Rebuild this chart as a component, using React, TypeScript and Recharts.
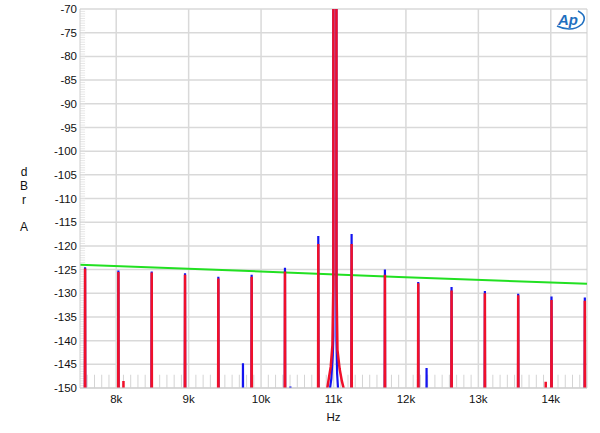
import React from 'react'
import { LineChart, Line, XAxis, YAxis, CartesianGrid, ReferenceLine, Label } from 'recharts'

// spur frequencies (Hz) around the 11kHz tone
const spurFreqs = [7570, 8030, 8490, 8950, 9410, 9870, 10330, 10790, 11250, 11710, 12170, 12630, 13090, 13550, 14010, 14470]
const blueSpurs = [-124.5, -125.2, -125.4, -125.8, -126.5, -126.1, -124.6, -117.9, -117.5, -125.0, -127.6, -128.7, -129.5, -130.1, -130.7, -130.9]
const redSpurs = [-124.8, -125.5, -125.6, -126.1, -126.9, -126.5, -125.4, -119.6, -119.6, -126.1, -127.9, -129.4, -130.0, -130.4, -131.4, -131.6]

// small stray peaks near the floor
const blueExtraFreqs = [9750, 10405, 12285]
const blueExtraLevels = [-144.8, -149.7, -145.8]
const redExtraFreqs = [8100, 13930]
const redExtraLevels = [-148.5, -148.7]

// main tone with its skirt
const blueMainFreqs = [10935, 10970, 10990, 10998, 10999, 11040, 11041, 11050, 11070]
const blueMainLevels = [-152, -148, -143, -139, -40, -40, -140, -147, -152]
const redMainFreqs = [10895, 10930, 10962, 10985, 10998, 10999, 11040, 11041, 11055, 11085, 11115, 11155]
const redMainLevels = [-152, -148.5, -145.5, -141, -128, -40, -40, -128, -142, -146, -148.5, -151]

// green reference line
const greenFreqs = [7500, 10250, 11900, 14500]
const greenLevels = [-124.0, -125.55, -126.55, -128.0]

const xTicks = [8000, 9000, 10000, 11000, 12000, 13000, 14000]
const yTicks = [-70, -75, -80, -85, -90, -95, -100, -105, -110, -115, -120, -125, -130, -135, -140, -145, -150]
const yLabelLetters = ['d', 'B', 'r', '', 'A']

const FLOOR = -165
const SPIKE_HALF = 4

const minorX = Array.from({ length: 69 }, (_, i) => 7600 + i * 100).filter((f) => f % 1000 !== 0)
const minorY = Array.from({ length: 159 }, (_, i) => -149.5 + i * 0.5)

type Pt = { f: number; v: number }

const buildTrace = (
  freqs: number[],
  levels: number[],
  extraF: number[],
  extraL: number[],
  mainF: number[],
  mainL: number[]
): Pt[] => {
  const pts: Pt[] = []
  const spike = (f: number, v: number) => {
    pts.push({ f: f - SPIKE_HALF, v: FLOOR }, { f, v }, { f: f + SPIKE_HALF, v: FLOOR })
  }
  freqs.forEach((f, i) => spike(f, levels[i]))
  extraF.forEach((f, i) => spike(f, extraL[i]))
  mainF.forEach((f, i) => pts.push({ f, v: mainL[i] }))
  return pts.sort((a, b) => a.f - b.f)
}

const blueData = buildTrace(spurFreqs, blueSpurs, blueExtraFreqs, blueExtraLevels, blueMainFreqs, blueMainLevels)
const redData = buildTrace(spurFreqs, redSpurs, redExtraFreqs, redExtraLevels, redMainFreqs, redMainLevels)
const greenData = greenFreqs.map((f, i) => ({ f, v: greenLevels[i] }))

const font = 'Arial, "Liberation Sans", sans-serif'
const tickStyle = { fontSize: 11.5, fill: '#111', fontFamily: font }

const App = () => {
  return (
    <div style={{ position: 'absolute', left: 0, top: 0, width: 600, height: 433, background: '#fff' }}>
      <LineChart width={600} height={433} margin={{ top: 9, right: 13, left: 0, bottom: 0 }}>
        <CartesianGrid stroke='#d9d9d9' strokeWidth={1.5} horizontalValues={yTicks} verticalValues={xTicks} />
        <XAxis
          dataKey='f'
          type='number'
          domain={[7500, 14500]}
          ticks={xTicks}
          allowDataOverflow
          tickFormatter={(v: number) => `${v / 1000}k`}
          tick={tickStyle}
          tickLine={false}
          tickSize={0}
          tickMargin={7}
          height={45}
          axisLine={{ stroke: '#cfcfcf' }}
        >
          <Label value='Hz' position='insideBottom' offset={12} style={{ fontSize: 11.5, fill: '#111', fontFamily: font }} />
        </XAxis>
        <YAxis
          type='number'
          domain={[-150, -70]}
          ticks={yTicks}
          allowDataOverflow
          width={80}
          tick={tickStyle}
          tickLine={false}
          tickSize={0}
          tickMargin={3}
          axisLine={{ stroke: '#cfcfcf' }}
        />
        {minorX.map((f) => (
          <ReferenceLine
            key={`mx${f}`}
            segment={[
              { x: f, y: -150 },
              { x: f, y: -147.2 },
            ]}
            stroke='#d4d4d4'
            strokeWidth={1}
          />
        ))}
        {minorY.map((v) => (
          <ReferenceLine
            key={`my${v}`}
            segment={[
              { x: 7500, y: v },
              { x: 7570, y: v },
            ]}
            stroke='#e0e0e0'
            strokeWidth={0.8}
          />
        ))}
        <ReferenceLine x={14500} stroke='#cfcfcf' />
        <Line
          data={greenData}
          dataKey='v'
          type='linear'
          stroke='#22e022'
          strokeWidth={2}
          dot={false}
          activeDot={false}
          isAnimationActive={false}
        />
        <Line
          data={blueData}
          dataKey='v'
          type='linear'
          stroke='#1414f0'
          strokeWidth={2.2}
          dot={false}
          activeDot={false}
          isAnimationActive={false}
        />
        <Line
          data={redData}
          dataKey='v'
          type='linear'
          stroke='#f0102a'
          strokeWidth={2.5}
          dot={false}
          activeDot={false}
          isAnimationActive={false}
        />
      </LineChart>
      <svg width={600} height={433} style={{ position: 'absolute', left: 0, top: 0, pointerEvents: 'none' }}>
        {yLabelLetters.map((ch, i) => (
          <text key={i} x={24} y={176 + i * 13.8} textAnchor='middle' fontSize={12} fill='#111' fontFamily={font}>
            {ch}
          </text>
        ))}
        <path d='M 557 26 Q 572 33 582 24 Q 588 16 578 11' fill='none' stroke='#1f6fc0' strokeWidth={1.6} />
        <text x={558} y={25} fontSize={15} fontWeight='bold' fontStyle='italic' fill='#1f6fc0' fontFamily={font}>
          Ap
        </text>
      </svg>
    </div>
  )
}

export default App
